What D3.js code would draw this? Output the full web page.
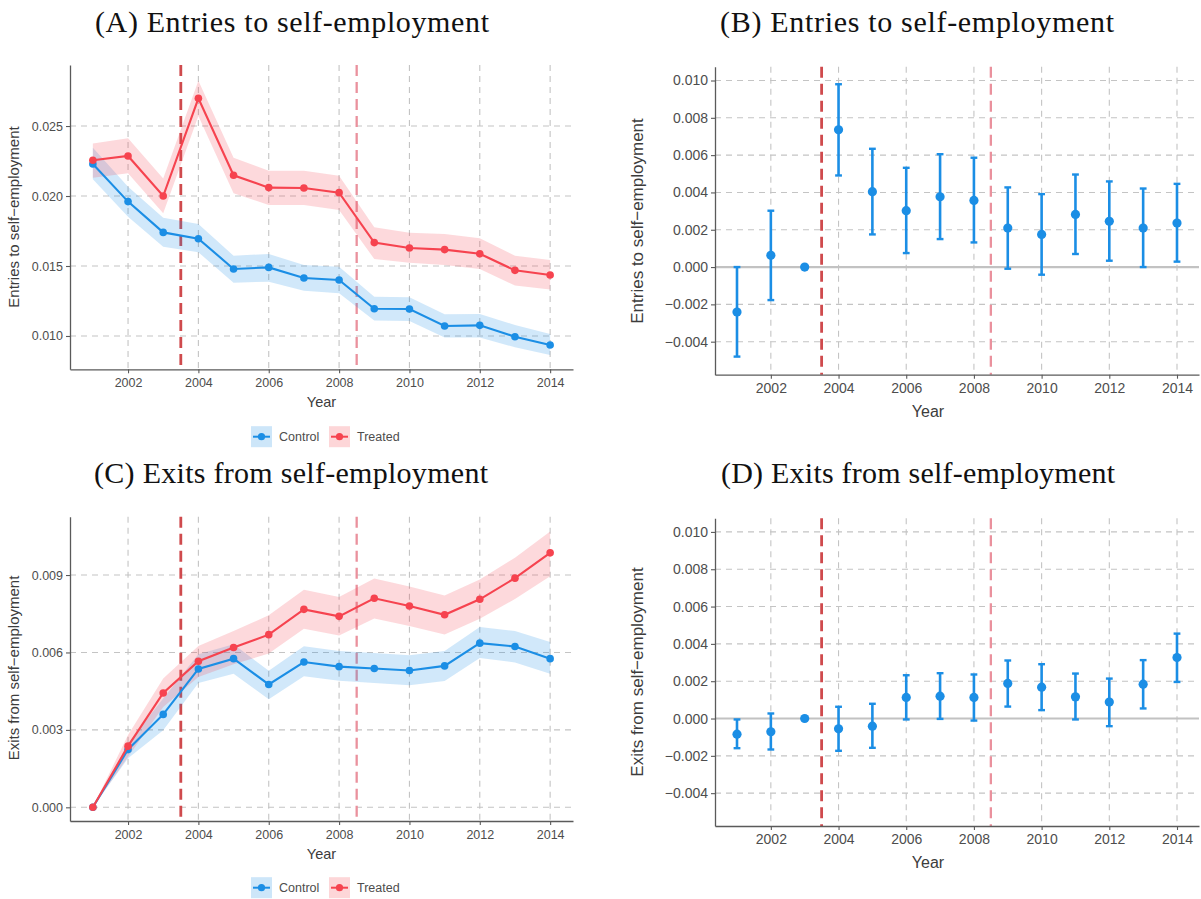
<!DOCTYPE html>
<html>
<head>
<meta charset="utf-8">
<script src="https://cdn.jsdelivr.net/npm/d3@7"></script>
<style>
  body { margin: 0; background: #fff; }
  text { font-family: "Liberation Sans", Arial, sans-serif; }
</style>
</head>
<body>
<svg id="chart" width="1201" height="899"></svg>
<script>
// ---- data ----
const years = [2001, 2002, 2003, 2004, 2005, 2006, 2007, 2008, 2009, 2010, 2011, 2012, 2013, 2014];
const xTicks = [2002, 2004, 2006, 2008, 2010, 2012, 2014];
const eventYears = [2003.5, 2008.5];

// (A) entries, group means
const entriesControl   = [0.02229, 0.01960, 0.01740, 0.01695, 0.01479, 0.01490, 0.01414, 0.01400, 0.01195, 0.01193, 0.01071, 0.01076, 0.00995, 0.00936];
const entriesControlLo = [0.02119, 0.01852, 0.01638, 0.01598, 0.01381, 0.01388, 0.01324, 0.01305, 0.01110, 0.01107, 0.00990, 0.00990, 0.00919, 0.00864];
const entriesControlHi = [0.02345, 0.02067, 0.01845, 0.01800, 0.01574, 0.01586, 0.01507, 0.01495, 0.01281, 0.01276, 0.01155, 0.01157, 0.01079, 0.01014];
const entriesTreated   = [0.02255, 0.02286, 0.02000, 0.02698, 0.02148, 0.02060, 0.02057, 0.02024, 0.01667, 0.01629, 0.01617, 0.01588, 0.01469, 0.01436];
const entriesTreatedLo = [0.02131, 0.02162, 0.01876, 0.02571, 0.02019, 0.01936, 0.01936, 0.01900, 0.01550, 0.01524, 0.01507, 0.01479, 0.01360, 0.01333];
const entriesTreatedHi = [0.02376, 0.02412, 0.02126, 0.02824, 0.02274, 0.02181, 0.02181, 0.02145, 0.01776, 0.01738, 0.01729, 0.01698, 0.01574, 0.01543];
const entriesTicks = [0.010, 0.015, 0.020, 0.025];

// (B) entries, estimates
const entriesEst   = [-0.00241, 0.00063, 0, 0.00736, 0.00404, 0.00302, 0.00377, 0.00357, 0.00209, 0.00175, 0.00282, 0.00245, 0.00209, 0.00236];
const entriesEstLo = [-0.00480, -0.00177, 0, 0.00491, 0.00175, 0.00075, 0.00150, 0.00132, -0.00009, -0.00041, 0.00070, 0.00034, 0.00000, 0.00029];
const entriesEstHi = [0.00000, 0.00302, 0, 0.00980, 0.00634, 0.00532, 0.00605, 0.00586, 0.00427, 0.00391, 0.00496, 0.00459, 0.00421, 0.00446];

// (C) exits, group means
const exitsControl   = [0, 0.00224, 0.00360, 0.00536, 0.00576, 0.00476, 0.00563, 0.00545, 0.00538, 0.00530, 0.00548, 0.00636, 0.00623, 0.00576];
const exitsControlLo = [0, 0.00190, 0.00299, 0.00482, 0.00518, 0.00419, 0.00508, 0.00490, 0.00482, 0.00473, 0.00489, 0.00579, 0.00561, 0.00518];
const exitsControlHi = [0, 0.00248, 0.00422, 0.00593, 0.00632, 0.00529, 0.00624, 0.00606, 0.00598, 0.00589, 0.00606, 0.00699, 0.00683, 0.00641];
const exitsTreated   = [0, 0.00237, 0.00443, 0.00566, 0.00619, 0.00669, 0.00767, 0.00740, 0.00810, 0.00780, 0.00746, 0.00806, 0.00888, 0.00986];
const exitsTreatedLo = [0, 0.00196, 0.00389, 0.00505, 0.00554, 0.00596, 0.00692, 0.00666, 0.00732, 0.00703, 0.00670, 0.00731, 0.00807, 0.00895];
const exitsTreatedHi = [0, 0.00280, 0.00499, 0.00625, 0.00683, 0.00744, 0.00843, 0.00815, 0.00887, 0.00856, 0.00821, 0.00883, 0.00967, 0.01069];
const exitsTicks = [0.000, 0.003, 0.006, 0.009];

// (D) exits, estimates
const exitsEst   = [-0.00084, -0.00071, 0, -0.00055, -0.00041, 0.00113, 0.00120, 0.00113, 0.00188, 0.00168, 0.00116, 0.00088, 0.00184, 0.00327];
const exitsEstLo = [-0.00159, -0.00166, 0, -0.00173, -0.00157, -0.00005, -0.00002, -0.00011, 0.00064, 0.00045, -0.00005, -0.00041, 0.00054, 0.00196];
const exitsEstHi = [-0.00005, 0.00027, 0, 0.00063, 0.00079, 0.00232, 0.00243, 0.00236, 0.00311, 0.00291, 0.00241, 0.00214, 0.00313, 0.00455];
const estTicks = [-0.004, -0.002, 0.000, 0.002, 0.004, 0.006, 0.008, 0.010];

const groups = ["Control", "Treated"];

// ---- styling ----
const blue = "#1b8ee5";
const red = "#f6434f";
const eventColors = ["#cf4a4d", "#ea919d"];
const gridColor = "#c4c4c4";
const axisColor = "#5a5a5a";
const textColor = "#4d4d4d";
const xDomain = [2000.35, 2014.65];
const fmt = d3.format(".3f");

const svg = d3.select("#chart");

function rows(vals, lo, hi) {
  return years.map((yr, i) => ({ year: yr, v: vals[i], lo: lo[i], hi: hi[i] }));
}

function frame(p) {
  const x = d3.scaleLinear().domain(xDomain).range([p.left, p.right]);
  const y = d3.scaleLinear().domain(p.yDomain).range([p.bottom, p.top]);
  const g = svg.append("g");

  // grid
  g.selectAll("line.hgrid").data(p.yTicks).enter().append("line")
    .attr("x1", p.left).attr("x2", p.right)
    .attr("y1", d => y(d)).attr("y2", d => y(d))
    .attr("stroke", gridColor).attr("stroke-width", 1.1)
    .attr("stroke-dasharray", "6,5");
  g.selectAll("line.vgrid").data(xTicks).enter().append("line")
    .attr("x1", d => x(d)).attr("x2", d => x(d))
    .attr("y1", p.top).attr("y2", p.bottom)
    .attr("stroke", gridColor).attr("stroke-width", 1.1)
    .attr("stroke-dasharray", "6,5");

  if (p.zeroLine) {
    g.append("line")
      .attr("x1", p.left).attr("x2", p.right)
      .attr("y1", y(0)).attr("y2", y(0))
      .attr("stroke", "#c2c2c2").attr("stroke-width", 2.2);
  }

  // event lines
  g.selectAll("line.event").data(eventYears).enter().append("line")
    .attr("x1", d => x(d)).attr("x2", d => x(d))
    .attr("y1", p.top).attr("y2", p.bottom)
    .attr("stroke", (d, i) => eventColors[i])
    .attr("stroke-width", (d, i) => i === 0 ? 2.8 : 2.3)
    .attr("stroke-dasharray", "11,6");

  return { g, x, y };
}

function axes(p, f) {
  const yAxis = f.g.append("g")
    .attr("transform", `translate(${p.left},0)`)
    .call(d3.axisLeft(f.y).tickValues(p.yTicks).tickFormat(fmt).tickSize(4).tickSizeOuter(0).tickPadding(3));
  const xAxis = f.g.append("g")
    .attr("transform", `translate(0,${p.bottom})`)
    .call(d3.axisBottom(f.x).tickValues(xTicks).tickFormat(d3.format("d")).tickSize(4).tickSizeOuter(0).tickPadding(p.xPad));
  [yAxis, xAxis].forEach(a => {
    a.select(".domain").attr("stroke", axisColor).attr("stroke-width", 1.3);
    a.selectAll(".tick line").attr("stroke", axisColor).attr("stroke-width", 1.1);
    a.selectAll(".tick text")
      .style("font-family", "Liberation Sans, Arial, sans-serif")
      .style("font-size", p.tickSize + "px")
      .attr("fill", textColor);
  });

  svg.append("text")
    .attr("x", p.yearX).attr("y", p.yearY)
    .attr("text-anchor", "middle")
    .style("font-size", p.titleSize + "px")
    .attr("fill", "#3c3c3c")
    .text("Year");

  svg.append("text")
    .attr("transform", `translate(${p.yTitleX},${p.yTitleY}) rotate(-90)`)
    .attr("text-anchor", "middle")
    .style("font-size", p.yTitleSize + "px")
    .attr("fill", "#3c3c3c")
    .text(p.yTitle);

  // panel heading, stretched to the width of the original serif heading
  svg.append("text")
    .attr("x", p.headX - 196).attr("y", p.headY)
    .attr("textLength", 394)
    .attr("lengthAdjust", "spacing")
    .style("font-family", "Liberation Serif, 'Times New Roman', serif")
    .style("font-size", "30px")
    .attr("fill", "#111")
    .text(p.head);
}

function meansPanel(p, series) {
  const f = frame(p);
  const area = d3.area().x(d => f.x(d.year)).y0(d => f.y(d.lo)).y1(d => f.y(d.hi));
  const line = d3.line().x(d => f.x(d.year)).y(d => f.y(d.v));

  series.forEach(s => {
    f.g.append("path").datum(s.data)
      .attr("d", area).attr("fill", s.color).attr("fill-opacity", 0.2);
  });
  series.forEach(s => {
    f.g.append("path").datum(s.data)
      .attr("d", line).attr("fill", "none")
      .attr("stroke", s.color).attr("stroke-width", 2.1);
    f.g.selectAll(null).data(s.data).enter().append("circle")
      .attr("cx", d => f.x(d.year)).attr("cy", d => f.y(d.v))
      .attr("r", 3.8).attr("fill", s.color);
  });
  axes(p, f);

  // legend
  const lg = svg.append("g").attr("transform", `translate(251,${p.legendY})`);
  const keyX = [0, 78];
  series.forEach((s, i) => {
    const k = lg.append("g").attr("transform", `translate(${keyX[i]},0)`);
    k.append("rect").attr("x", 0).attr("y", -10.5).attr("width", 21).attr("height", 21)
      .attr("fill", s.color).attr("fill-opacity", 0.22);
    k.append("line").attr("x1", 2).attr("x2", 19).attr("y1", 0).attr("y2", 0)
      .attr("stroke", s.color).attr("stroke-width", 2);
    k.append("circle").attr("cx", 10.5).attr("cy", 0).attr("r", 3.6).attr("fill", s.color);
    k.append("text").attr("x", 28).attr("y", 4.5)
      .style("font-size", "12.5px").attr("fill", textColor)
      .text(groups[i]);
  });
}

function estPanel(p, data) {
  const f = frame(p);
  const withBars = data.filter(d => d.hi !== d.lo);
  f.g.selectAll(null).data(withBars).enter().append("line")
    .attr("x1", d => f.x(d.year)).attr("x2", d => f.x(d.year))
    .attr("y1", d => f.y(d.lo)).attr("y2", d => f.y(d.hi))
    .attr("stroke", blue).attr("stroke-width", 2.6);
  ["lo", "hi"].forEach(k => {
    f.g.selectAll(null).data(withBars).enter().append("line")
      .attr("x1", d => f.x(d.year) - 3.4).attr("x2", d => f.x(d.year) + 3.4)
      .attr("y1", d => f.y(d[k])).attr("y2", d => f.y(d[k]))
      .attr("stroke", blue).attr("stroke-width", 2.4);
  });
  f.g.selectAll(null).data(data).enter().append("circle")
    .attr("cx", d => f.x(d.year)).attr("cy", d => f.y(d.v))
    .attr("r", 4.6).attr("fill", blue);
  axes(p, f);
}

const leftCommon = { left: 70, right: 573, tickSize: 12.5, titleSize: 14.5, yTitleSize: 15, xPad: 5, yearX: 321.5, yTitleX: 19 };
const rightCommon = { left: 715, right: 1199, tickSize: 14, titleSize: 16, yTitleSize: 17, xPad: 4, yearX: 928, yTitleX: 643, zeroLine: true, yTicks: estTicks };

meansPanel(Object.assign({}, leftCommon, {
  top: 65, bottom: 369.3, yDomain: [0.00762, 0.02936], yTicks: entriesTicks,
  yearY: 407, yTitleY: 217, yTitle: "Entries to self\u2212employment",
  head: "(A) Entries to self-employment", headX: 291, headY: 32, legendY: 436.7
}), [
  { color: blue, data: rows(entriesControl, entriesControlLo, entriesControlHi) },
  { color: red, data: rows(entriesTreated, entriesTreatedLo, entriesTreatedHi) }
]);

estPanel(Object.assign({}, rightCommon, {
  top: 66.7, bottom: 374.7, yDomain: [-0.00577, 0.01074],
  yearY: 417, yTitleY: 221, yTitle: "Entries to self\u2212employment",
  head: "(B) Entries to self-employment", headX: 916, headY: 32
}), rows(entriesEst, entriesEstLo, entriesEstHi));

meansPanel(Object.assign({}, leftCommon, {
  top: 516.7, bottom: 821, yDomain: [-0.00053, 0.01126], yTicks: exitsTicks,
  yearY: 859, yTitleY: 668, yTitle: "Exits from self\u2212employment",
  head: "(C) Exits from self-employment", headX: 290, headY: 483, legendY: 887.7
}), [
  { color: blue, data: rows(exitsControl, exitsControlLo, exitsControlHi) },
  { color: red, data: rows(exitsTreated, exitsTreatedLo, exitsTreatedHi) }
]);

estPanel(Object.assign({}, rightCommon, {
  top: 518.3, bottom: 826, yDomain: [-0.00576, 0.01073],
  yearY: 868, yTitleY: 672, yTitle: "Exits from self\u2212employment",
  head: "(D) Exits from self-employment", headX: 917, headY: 483
}), rows(exitsEst, exitsEstLo, exitsEstHi));
</script>
</body>
</html>
